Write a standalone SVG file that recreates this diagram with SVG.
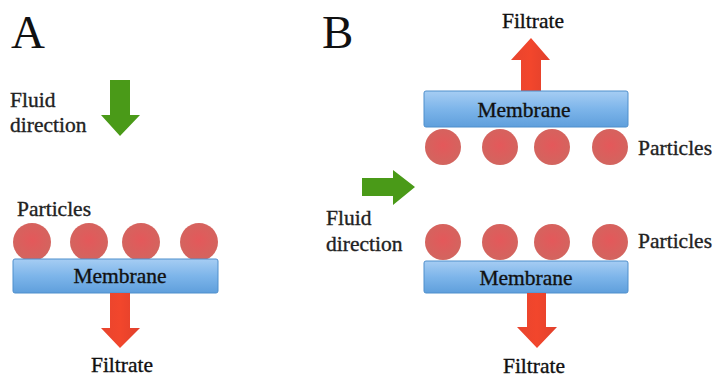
<svg xmlns="http://www.w3.org/2000/svg" width="714" height="377" viewBox="0 0 714 377">
<defs>
<linearGradient id="memb" x1="0" y1="0" x2="0" y2="1">
<stop offset="0" stop-color="#a6cdf3"/>
<stop offset="0.5" stop-color="#7db5ea"/>
<stop offset="1" stop-color="#5f9fdc"/>
</linearGradient>
<radialGradient id="part" cx="0.5" cy="0.45" r="0.55">
<stop offset="0" stop-color="#e4585a"/>
<stop offset="1" stop-color="#d2655f"/>
</radialGradient>
<linearGradient id="red" x1="0" y1="0" x2="1" y2="0">
<stop offset="0" stop-color="#e8442e"/>
<stop offset="0.5" stop-color="#f2462c"/>
<stop offset="1" stop-color="#e0402c"/>
</linearGradient>
</defs>
<style>
.lbl{font-family:"Liberation Serif","Times New Roman",serif;font-size:21.5px;fill:#222;stroke:#222;stroke-width:0.35}
.big{font-family:"Liberation Serif","Times New Roman",serif;font-size:47px;fill:#111}
.mt{font-family:"Liberation Serif","Times New Roman",serif;font-size:21.5px;fill:#111;stroke:#111;stroke-width:0.35;text-anchor:middle}
.memb{fill:url(#memb);stroke:#4f8fcc;stroke-width:1}
.part{fill:url(#part)}
.red{fill:url(#red)}
.green{fill:#4a9a18}
</style>
<rect width="714" height="377" fill="#fff"/>

<g id="panelA">
<text class="big" x="11" y="48">A</text>
<g id="A-fluid">
<text class="lbl" x="10" y="107">Fluid</text>
<text class="lbl" x="10" y="132">direction</text>
<polygon class="green" points="110,80 130,80 130,115 140,115 120,136 101,115 110,115"/>
</g>
<g id="A-particles">
<text class="lbl" x="17" y="216">Particles</text>
<circle class="part" cx="32" cy="242" r="19"/>
<circle class="part" cx="89" cy="242" r="19"/>
<circle class="part" cx="141" cy="242" r="19"/>
<circle class="part" cx="199" cy="242" r="19"/>
</g>
<g id="A-membrane">
<rect class="memb" x="13" y="259" width="205" height="34" rx="2"/>
<text class="mt" x="120" y="283">Membrane</text>
</g>
<g id="A-filtrate">
<polygon class="red" points="110,293 130,293 130,328 140,328 120,348 101,328 110,328"/>
<text class="mt" x="122" y="372">Filtrate</text>
</g>
</g>

<g id="panelB">
<text class="big" x="322" y="48">B</text>
<g id="B-filtrate-top">
<text class="mt" x="533" y="28">Filtrate</text>
<polygon class="red" points="531,38 550,60 541,60 541,92 521,92 521,60 511,60"/>
</g>
<g id="B-membrane-top">
<rect class="memb" x="424" y="91" width="204" height="36" rx="2"/>
<text class="mt" x="524" y="117">Membrane</text>
</g>
<g id="B-particles-top">
<circle class="part" cx="443" cy="147" r="18"/>
<circle class="part" cx="500" cy="147" r="18"/>
<circle class="part" cx="552" cy="147" r="18"/>
<circle class="part" cx="610" cy="147" r="18"/>
<text class="lbl" x="638" y="155">Particles</text>
</g>
<g id="B-fluid">
<polygon class="green" points="362,178 393,178 393,170 415,187 393,205 393,196 362,196"/>
<text class="lbl" x="326" y="225">Fluid</text>
<text class="lbl" x="326" y="251">direction</text>
</g>
<g id="B-particles-bottom">
<circle class="part" cx="443" cy="242" r="18"/>
<circle class="part" cx="500" cy="242" r="18"/>
<circle class="part" cx="552" cy="242" r="18"/>
<circle class="part" cx="610" cy="242" r="18"/>
<text class="lbl" x="638" y="248">Particles</text>
</g>
<g id="B-membrane-bottom">
<rect class="memb" x="424" y="261" width="204" height="32" rx="2"/>
<text class="mt" x="526" y="285">Membrane</text>
</g>
<g id="B-filtrate-bottom">
<polygon class="red" points="527,293 546,293 546,327 557,327 537,348 517,327 527,327"/>
<text class="mt" x="534" y="373">Filtrate</text>
</g>
</g>
</svg>
